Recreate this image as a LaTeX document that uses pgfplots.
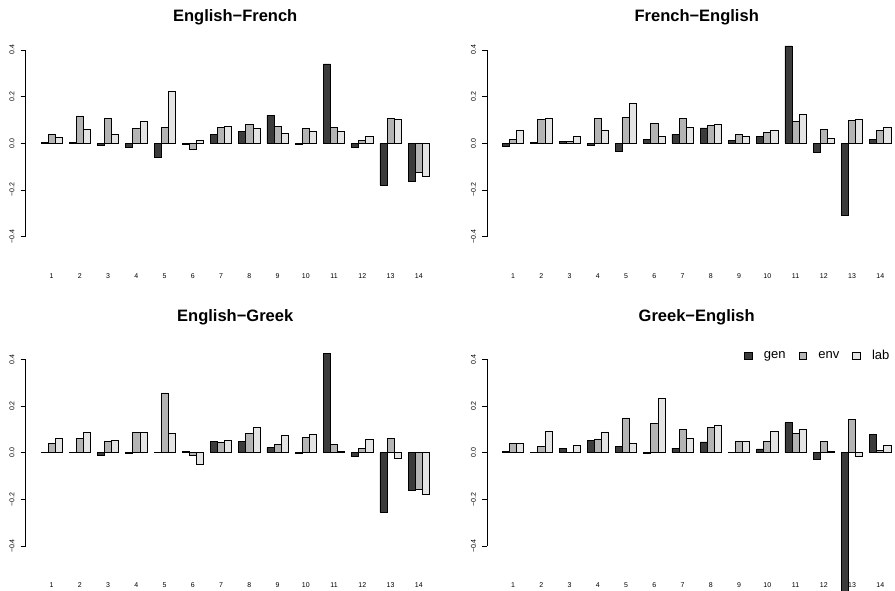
\documentclass[border=0pt]{standalone}
\usepackage{fontspec}
\setmainfont{Liberation Sans}
\usepackage{pgfplots}
\pgfplotsset{compat=1.18}
\usepackage{pgfplotstable}

\definecolor{gencol}{HTML}{3B3B3B}
\definecolor{envcol}{HTML}{B4B4B4}
\definecolor{labcol}{HTML}{E4E4E4}

% English-French
\pgfplotstableread{
g gen env lab
1 0.002 0.039 0.026
2 0.002 0.117 0.060
3 -0.008 0.106 0.037
4 -0.017 0.063 0.093
5 -0.060 0.067 0.223
6 -0.004 -0.024 0.013
7 0.037 0.067 0.073
8 0.051 0.081 0.064
9 0.121 0.073 0.044
10 -0.006 0.063 0.053
11 0.340 0.067 0.051
12 -0.016 0.011 0.029
13 -0.179 0.107 0.103
14 -0.164 -0.126 -0.141
}\tabEF

% French-English
\pgfplotstableread{
g gen env lab
1 -0.011 0.017 0.056
2 0.003 0.101 0.107
3 0.009 0.009 0.031
4 -0.007 0.106 0.057
5 -0.036 0.111 0.169
6 0.016 0.084 0.031
7 0.039 0.107 0.069
8 0.066 0.077 0.080
9 0.013 0.039 0.031
10 0.030 0.047 0.056
11 0.417 0.094 0.124
12 -0.039 0.061 0.023
13 -0.309 0.099 0.103
14 0.017 0.056 0.070
}\tabFE

% English-Greek
\pgfplotstableread{
g gen env lab
1 0.001 0.040 0.060
2 0.001 0.060 0.086
3 -0.013 0.047 0.054
4 -0.002 0.086 0.086
5 0.002 0.256 0.084
6 0.006 -0.013 -0.050
7 0.047 0.044 0.054
8 0.050 0.081 0.110
9 0.023 0.037 0.076
10 -0.002 0.064 0.080
11 0.426 0.037 0.006
12 -0.014 0.020 0.057
13 -0.256 0.060 -0.023
14 -0.161 -0.156 -0.177
}\tabEG

% Greek-English
\pgfplotstableread{
g gen env lab
1 0.007 0.041 0.041
2 0.002 0.027 0.091
3 0.020 0.002 0.031
4 0.054 0.059 0.089
5 0.026 0.149 0.040
6 -0.004 0.126 0.234
7 0.020 0.101 0.061
8 0.046 0.109 0.117
9 0.002 0.049 0.047
10 0.016 0.049 0.090
11 0.129 0.081 0.100
12 -0.029 0.047 0.004
13 -0.600 0.141 -0.017
14 0.080 0.010 0.033
}\tabGE

\pgfplotsset{
  ybar legend/.style={/pgfplots/legend image code/.code={%
      \draw[##1,draw=black,line width=0.7pt] (0pt,-3.8pt) rectangle (7.6pt,3.8pt);}},
  panel/.style={
    width=419.4pt, height=201.7pt, scale only axis,
    anchor=south west,
    xmin=0.075, xmax=14.925, ymin=-0.432, ymax=0.432,
    clip=false,
    axis lines*=left, axis line style={draw=none},
    ybar, bar width=0.25,
    xtick={1,2,3,4,5,6,7,8,9,10,11,12,13,14},
    xticklabels={1,2,3,4,5,6,7,8,9,10,11,12,13,14},
    x tick style={draw=none},
    xticklabel style={font=\fontsize{7}{8}\selectfont},
    xticklabel shift=20.7pt,
    ytick={-0.4,-0.2,0,0.2,0.4},
    yticklabels={−0.4,−0.2,0.0,0.2,0.4},
    y tick style={black, line width=0.7pt},
    tick align=outside, major tick length=5pt,
    yticklabel style={font=\fontsize{7}{8}\selectfont, rotate=90, anchor=south},
    yticklabel shift=2.5pt,
    title style={font=\fontsize{16.5}{18}\selectfont\bfseries, at={(0.5,1)}, anchor=base},
  },
  genbar/.style={fill=gencol, draw=black, line width=0.7pt, bar shift=-0.25},
  envbar/.style={fill=envcol, draw=black, line width=0.7pt, bar shift=0},
  labbar/.style={fill=labcol, draw=black, line width=0.7pt, bar shift=0.25},
}

\newcommand{\yaxisline}{\draw[black, line width=0.7pt] (axis cs:0.075,-0.4) -- (axis cs:0.075,0.4);}

\begin{document}
\begin{tikzpicture}
\begin{axis}[panel, at={(25.5pt,346.85pt)}, title={English−French}, title style={yshift=14.8pt}]
  \addplot[genbar] table[x=g, y=gen] {\tabEF};
  \addplot[envbar] table[x=g, y=env] {\tabEF};
  \addplot[labbar] table[x=g, y=lab] {\tabEF};
  \yaxisline
\end{axis}

\begin{axis}[panel, at={(487pt,346.85pt)}, title={French−English}, title style={yshift=14.8pt}]
  \addplot[genbar] table[x=g, y=gen] {\tabFE};
  \addplot[envbar] table[x=g, y=env] {\tabFE};
  \addplot[labbar] table[x=g, y=lab] {\tabFE};
  \yaxisline
\end{axis}

\begin{axis}[panel, at={(25.5pt,37.45pt)}, title={English−Greek}, title style={yshift=24pt}]
  \addplot[genbar] table[x=g, y=gen] {\tabEG};
  \addplot[envbar] table[x=g, y=env] {\tabEG};
  \addplot[labbar] table[x=g, y=lab] {\tabEG};
  \yaxisline
\end{axis}

\begin{axis}[panel, at={(487pt,37.45pt)}, title={Greek−English}, title style={yshift=24pt},
  legend columns=3,
  legend style={draw=none, fill=none, inner sep=0pt, outer sep=0pt,
    at={(0.6128,0.9794)}, anchor=west,
    font=\fontsize{13}{15}\selectfont,
    /tikz/every odd column/.append style={column sep=9.5pt},
    /tikz/every even column/.append style={column sep=11pt}},
  legend cell align=left]
  \addplot[genbar] table[x=g, y=gen] {\tabGE};
  \addplot[envbar] table[x=g, y=env] {\tabGE};
  \addplot[labbar] table[x=g, y=lab] {\tabGE};
  \yaxisline
  \legend{gen, env, lab}
\end{axis}

\pgfresetboundingbox
\useasboundingbox (0,0) rectangle (895pt,591pt);
\end{tikzpicture}
\end{document}
